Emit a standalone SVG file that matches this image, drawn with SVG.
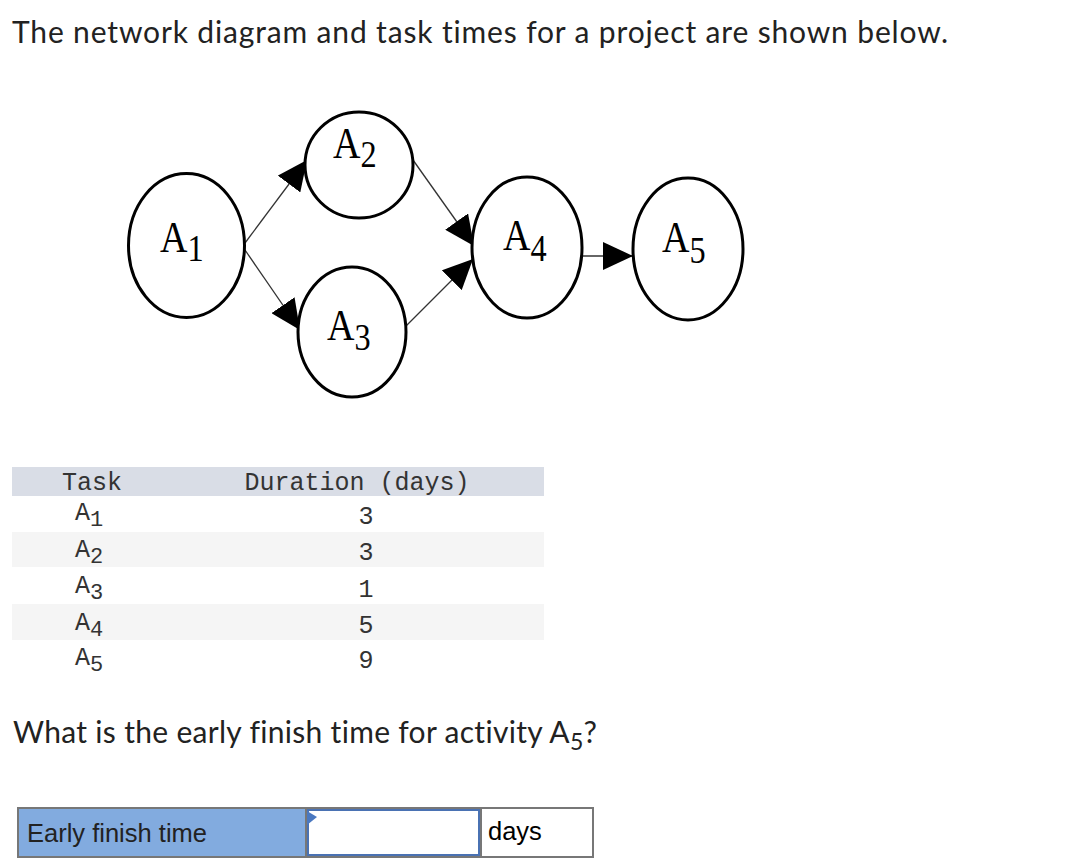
<svg xmlns="http://www.w3.org/2000/svg" width="1088" height="866" viewBox="0 0 1088 866">
<style>
.prose{font-family:Lato,"Open Sans","Liberation Sans",sans-serif;font-size:30px;fill:#222;font-variant-ligatures:none;}
.node ellipse{fill:#fff;stroke:#000;stroke-width:3;}
.lbl{font-family:"Liberation Serif","DejaVu Serif",serif;font-size:40px;fill:#000;}
.conn line{stroke:#333;stroke-width:1.3;fill:none;marker-end:url(#ah);}
.mono{font-family:"Liberation Mono","DejaVu Sans Mono",monospace;font-size:25px;fill:#333;}
.ui{font-family:"Liberation Sans",Arial,sans-serif;font-size:25.5px;}
</style>
<defs>
<marker id="ah" markerUnits="userSpaceOnUse" markerWidth="30" markerHeight="28" refX="30" refY="14" orient="auto" viewBox="0 0 30 28">
<path d="M0,0 L30,14 L0,28 z" fill="#000"/>
</marker>
</defs>
<rect x="0" y="0" width="1088" height="866" fill="#fff"/>
<text class="prose" x="12" y="43" textLength="936">The network diagram and task times for a project are shown below.</text>

<g id="connectors" class="conn">
<line x1="245" y1="243" x2="307" y2="160"/>
<line x1="245" y1="250" x2="300" y2="330"/>
<line x1="413" y1="160" x2="474" y2="246"/>
<line x1="406" y1="326" x2="473" y2="259"/>
<line x1="582" y1="256" x2="633" y2="256"/>
</g>

<g id="node-A1" class="node">
<ellipse cx="186.5" cy="245.5" rx="58" ry="72"/>
<g transform="translate(160,252) scale(0.95,1.1)"><text class="lbl" x="0" y="0">A<tspan font-size="34" dy="8">1</tspan></text></g>
</g>
<g id="node-A2" class="node">
<ellipse cx="359" cy="165" rx="54" ry="53"/>
<g transform="translate(333,158) scale(0.95,1.1)"><text class="lbl" x="0" y="0">A<tspan font-size="34" dy="8">2</tspan></text></g>
</g>
<g id="node-A3" class="node">
<ellipse cx="352" cy="332" rx="54" ry="65"/>
<g transform="translate(327,340) scale(0.95,1.1)"><text class="lbl" x="0" y="0">A<tspan font-size="34" dy="9">3</tspan></text></g>
</g>
<g id="node-A4" class="node">
<ellipse cx="527" cy="247.5" rx="55" ry="70.5"/>
<g transform="translate(503,250) scale(0.95,1.1)"><text class="lbl" x="0" y="0">A<tspan font-size="34" dy="10">4</tspan></text></g>
</g>
<g id="node-A5" class="node">
<ellipse cx="688" cy="249" rx="55" ry="71"/>
<g transform="translate(662,252) scale(0.95,1.1)"><text class="lbl" x="0" y="0">A<tspan font-size="34" dy="10">5</tspan></text></g>
</g>

<g id="table">
<rect x="12" y="467" width="532" height="29" fill="#d9dde6"/>
<rect x="12" y="532" width="532" height="35" fill="#f5f5f5"/>
<rect x="12" y="604" width="532" height="36" fill="#f5f5f5"/>
<text class="mono" x="92" y="490" text-anchor="middle">Task</text>
<text class="mono" x="357" y="490" text-anchor="middle">Duration (days)</text>
<text class="mono" x="75" y="520">A<tspan font-size="22" dy="6">1</tspan></text>
<text class="mono" x="75" y="557">A<tspan font-size="22" dy="6">2</tspan></text>
<text class="mono" x="75" y="593">A<tspan font-size="22" dy="6">3</tspan></text>
<text class="mono" x="75" y="630">A<tspan font-size="22" dy="6">4</tspan></text>
<text class="mono" x="75" y="665">A<tspan font-size="22" dy="6">5</tspan></text>
<text class="mono" x="366" y="524" text-anchor="middle">3</text>
<text class="mono" x="366" y="560" text-anchor="middle">3</text>
<text class="mono" x="366" y="597" text-anchor="middle">1</text>
<text class="mono" x="366" y="633" text-anchor="middle">5</text>
<text class="mono" x="366" y="668" text-anchor="middle">9</text>
</g>

<text class="prose" x="13" y="743" textLength="584">What is the early finish time for activity A<tspan font-size="23" dy="7">5</tspan><tspan dy="-7">?</tspan></text>

<g id="answer">
<rect x="19" y="809" width="287" height="47" fill="#82abdf"/>
<rect x="481" y="809" width="111" height="47" fill="#fff"/>
<rect x="18" y="808" width="575" height="49" fill="none" stroke="#777" stroke-width="2"/>
<line x1="306" y1="808" x2="306" y2="857" stroke="#777" stroke-width="2"/>
<line x1="481" y1="808" x2="481" y2="857" stroke="#777" stroke-width="2"/>
<rect x="308" y="810" width="171" height="45" fill="#fff" stroke="#4a72b3" stroke-width="2"/>
<polygon points="307,811 317,817 307,825" fill="#4a78c0"/>
<text class="ui" x="27" y="842" fill="#222">Early finish time</text>
<text class="ui" x="488" y="840" fill="#000">days</text>
</g>
</svg>
